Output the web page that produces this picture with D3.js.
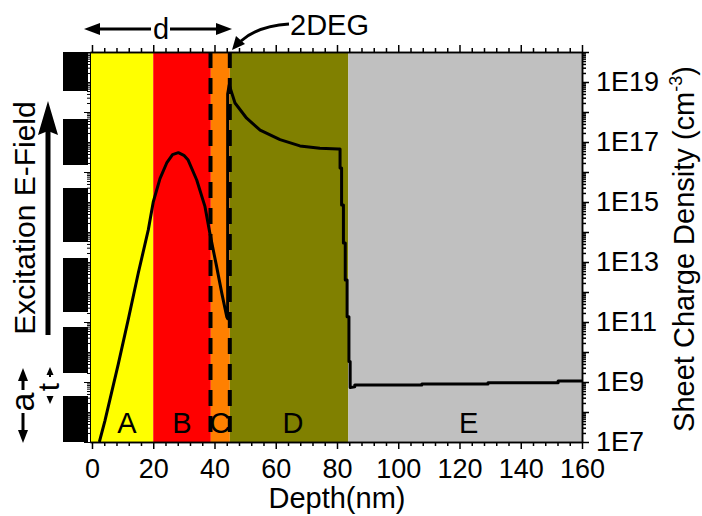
<!DOCTYPE html>
<html>
<head>
<meta charset="utf-8">
<script src="https://cdn.jsdelivr.net/npm/d3@7"></script>
<style>
  body { margin: 0; background: #fff; }
  text { font-family: "Liberation Sans", Arial, sans-serif; fill: #000; }
</style>
</head>
<body>
<div id="chart"></div>
<script>
// layers of the structure
var layerNames = ["A", "B", "C", "D", "E"];
var layerStart = [-0.65, 20, 38.8, 45, 83.7];
var layerEnd = [20, 38.8, 45, 83.7, 160];
var layerLabelAt = [11.4, 29.4, 41.8, 65.6, 123];
var layerColors = ["#ffff00", "#ff0000", "#ff8000", "#808000", "#c0c0c0"];

// dashed interface markers (nm)
var interfaceDepths = [38.7, 45.0];

// charge density profile
var depth = [2.4, 4.2, 8.6, 11.9, 15.1, 18.4, 20.0, 22.2, 24.4, 26.3, 28.2, 30.0, 31.4, 34.2, 36.9,
  38.5, 40.7, 42.4, 44.0, 44.3, 44.3, 44.8, 46.7, 50.5, 54.9, 61.4, 67.9, 74.4, 80.4, 81.0,
  81.0, 81.5, 81.5, 82.1, 82.1, 82.7, 82.7, 83.3, 83.3, 83.9, 83.9, 84.3, 84.3, 85.8,
  85.8, 107.7, 107.7, 129.3, 129.3, 152.2, 152.2, 160];
var density = [1e7, 5e7, 4e9, 1.3e11, 4.2e12, 1.2e14, 1e15, 6e15, 2e16, 3.8e16, 4.4e16, 3.6e16, 2.5e16, 5.4e15, 7e14,
  9e13, 7e12, 9e11, 1.5e11, 1.3e11, 4e18, 8e18, 2e18, 6.2e17, 2.5e17, 1.2e17, 7.4e16, 6.2e16, 5.8e16, 5.8e16,
  1.35e16, 1.35e16, 8e14, 8e14, 4.3e13, 4.3e13, 2.5e12, 2.5e12, 1.5e11, 1.5e11, 4.8e9, 4.8e9, 6.5e8, 6.9e8,
  7.9e8, 7.9e8, 8.5e8, 8.5e8, 9.5e8, 9.5e8, 1.07e9, 1.07e9];

// ticks
var depthTicks = [0, 20, 40, 60, 80, 100, 120, 140, 160];
var densityTicks = [1e7, 1e8, 1e9, 1e10, 1e11, 1e12, 1e13, 1e14, 1e15, 1e16, 1e17, 1e18, 1e19, 1e20];
var densityLabels = ["1E7", "", "1E9", "", "1E11", "", "1E13", "", "1E15", "", "1E17", "", "1E19", ""];

var margin = { top: 52, left: 90, right: 120, bottom: 74 },
  width = 702 - margin.left - margin.right,
  height = 516 - margin.top - margin.bottom;

var svgRoot = d3.select("#chart")
  .append("svg")
  .attr("width", 702)
  .attr("height", 516);

var svg = svgRoot.append("g")
  .attr("transform", "translate(" + margin.left + "," + margin.top + ")");

var xPositionScale = d3.scaleLinear().domain([-0.65, 160]).range([0, width]);
var yPositionScale = d3.scaleLog().domain([1e7, 1e20]).range([height, 0]);

svg.append("clipPath").attr("id", "plot-clip")
  .append("rect").attr("width", width).attr("height", height);

// coloured layers
svg.selectAll(".layer")
  .data(layerNames)
  .enter()
  .append("rect")
  .attr("class", "layer")
  .attr("x", function(d, i) { return xPositionScale(layerStart[i]); })
  .attr("width", function(d, i) { return xPositionScale(layerEnd[i]) - xPositionScale(layerStart[i]); })
  .attr("y", 0)
  .attr("height", height)
  .attr("fill", function(d, i) { return layerColors[i]; });

// profile line
var points = depth.map(function(d, i) { return [d, density[i]]; });
var line = d3.line()
  .x(function(d) { return xPositionScale(d[0]); })
  .y(function(d) { return yPositionScale(d[1]); });

svg.append("path")
  .datum(points)
  .attr("d", line)
  .attr("clip-path", "url(#plot-clip)")
  .attr("fill", "none")
  .attr("stroke", "#000")
  .attr("stroke-width", 3)
  .attr("stroke-linejoin", "round");

// dashed interfaces
svg.selectAll(".interface")
  .data(interfaceDepths)
  .enter()
  .append("line")
  .attr("class", "interface")
  .attr("x1", function(d) { return xPositionScale(d); })
  .attr("x2", function(d) { return xPositionScale(d); })
  .attr("y1", 0)
  .attr("y2", height)
  .attr("stroke", "#000")
  .attr("stroke-width", 4)
  .attr("stroke-dasharray", "16,10");

// layer letters
svg.selectAll(".layer-label")
  .data(layerNames)
  .enter()
  .append("text")
  .attr("class", "layer-label")
  .attr("x", function(d, i) { return xPositionScale(layerLabelAt[i]); })
  .attr("y", height - 9)
  .attr("text-anchor", "middle")
  .style("font-size", "29px")
  .text(function(d) { return d; });

// axes
var minorDepth = d3.range(0, 161, 4).filter(function(d) { return d % 20 != 0; });
var minorDensity = [];
densityTicks.slice(0, -1).forEach(function(t) {
  for (var k = 2; k < 10; k++) minorDensity.push(t * k);
});

var xAxis = d3.axisBottom(xPositionScale).tickValues(depthTicks).tickSize(7).tickSizeOuter(0);
var xAxisTop = d3.axisTop(xPositionScale).tickValues(depthTicks).tickSize(7).tickSizeOuter(0).tickFormat("");
var yAxis = d3.axisRight(yPositionScale).tickValues(densityTicks).tickSize(7).tickSizeOuter(0)
  .tickFormat(function(d, i) { return densityLabels[i]; });
var yAxisLeft = d3.axisLeft(yPositionScale).tickValues(densityTicks).tickSize(6).tickSizeOuter(0).tickFormat("");

svg.append("g").attr("class", "axis x-axis").attr("transform", "translate(0," + height + ")").call(xAxis);
svg.append("g").attr("class", "axis").attr("transform", "translate(0," + height + ")")
  .call(d3.axisBottom(xPositionScale).tickValues(minorDepth).tickSize(4).tickSizeOuter(0).tickFormat(""));
svg.append("g").attr("class", "axis").call(xAxisTop);
svg.append("g").attr("class", "axis")
  .call(d3.axisTop(xPositionScale).tickValues(minorDepth).tickSize(4).tickSizeOuter(0).tickFormat(""));
svg.append("g").attr("class", "axis y-axis").attr("transform", "translate(" + width + ",0)").call(yAxis);
svg.append("g").attr("class", "axis").attr("transform", "translate(" + width + ",0)")
  .call(d3.axisRight(yPositionScale).tickValues(minorDensity).tickSize(4).tickSizeOuter(0).tickFormat(""));
svg.append("g").attr("class", "axis left").call(yAxisLeft);
svg.append("g").attr("class", "axis left")
  .call(d3.axisLeft(yPositionScale).tickValues(minorDensity).tickSize(3).tickSizeOuter(0).tickFormat(""));

svg.selectAll(".axis path, .axis line").attr("stroke", "#000").attr("stroke-width", 1.5);
svg.selectAll(".axis.left path, .axis.left line").attr("stroke-width", 1);
svg.selectAll(".axis text")
  .style("font-size", "27px")
  .style("font-family", "'Liberation Sans', Arial, sans-serif")
  .attr("fill", "#000");
svg.selectAll(".x-axis text").attr("dy", "0.95em");
svg.selectAll(".y-axis text").attr("x", 14);

// axis titles
svg.append("text")
  .attr("x", xPositionScale(80))
  .attr("y", height + 66)
  .attr("text-anchor", "middle")
  .style("font-size", "29px")
  .text("Depth(nm)");

var yTitle = svg.append("text")
  .attr("transform", "translate(" + (width + 112) + "," + (height / 2 + 2) + ") rotate(-90)")
  .attr("text-anchor", "middle")
  .style("font-size", "29px");
yTitle.append("tspan").text("Sheet Charge Density (cm");
yTitle.append("tspan").attr("dy", -12).style("font-size", "18px").text("-3");
yTitle.append("tspan").attr("dy", 12).text(")");

// left side: excitation field bars
var fieldBlocks = [[52, 91], [119, 165], [188, 242], [258, 312], [327, 373], [396, 442]];
svgRoot.selectAll(".field-block")
  .data(fieldBlocks)
  .enter()
  .append("rect")
  .attr("x", 63)
  .attr("width", 25)
  .attr("y", function(d) { return d[0]; })
  .attr("height", function(d) { return d[1] - d[0]; })
  .attr("fill", "#000");

svgRoot.append("line")
  .attr("x1", 48).attr("x2", 48).attr("y1", 335).attr("y2", 128)
  .attr("stroke", "#000").attr("stroke-width", 5);
svgRoot.append("path")
  .attr("d", "M48,101 L58,135 L48,131 L38,135 Z")
  .attr("fill", "#000");

svgRoot.append("text")
  .attr("transform", "translate(35,218) rotate(-90)")
  .attr("text-anchor", "middle")
  .style("font-size", "30px")
  .text("Excitation E-Field");

// a and t markers
function arrowHead(g, x, y, dir, len, half) {
  g.append("path")
    .attr("d", "M" + x + "," + y + " L" + (x + half) + "," + (y + dir * len) + " L" + (x - half) + "," + (y + dir * len) + " Z")
    .attr("fill", "#000");
}
svgRoot.append("line").attr("x1", 23).attr("x2", 23).attr("y1", 376).attr("y2", 390)
  .attr("stroke", "#000").attr("stroke-width", 3);
svgRoot.append("line").attr("x1", 23).attr("x2", 23).attr("y1", 413).attr("y2", 433)
  .attr("stroke", "#000").attr("stroke-width", 3);
arrowHead(svgRoot, 23, 368, 1, 13, 5);
arrowHead(svgRoot, 23, 443, -1, 13, 5);
svgRoot.append("text")
  .attr("transform", "translate(34,402) rotate(-90)")
  .attr("text-anchor", "middle")
  .style("font-size", "34px")
  .text("a");

svgRoot.append("line").attr("x1", 50).attr("x2", 50).attr("y1", 372).attr("y2", 377)
  .attr("stroke", "#000").attr("stroke-width", 2);
svgRoot.append("line").attr("x1", 50).attr("x2", 50).attr("y1", 396).attr("y2", 400)
  .attr("stroke", "#000").attr("stroke-width", 2);
arrowHead(svgRoot, 50, 367, 1, 8, 3.5);
arrowHead(svgRoot, 50, 404, -1, 8, 3.5);
svgRoot.append("text")
  .attr("transform", "translate(59,387) rotate(-90)")
  .attr("text-anchor", "middle")
  .style("font-size", "30px")
  .text("t");

// d arrow over the top layers
svgRoot.append("line").attr("x1", 96).attr("x2", 151).attr("y1", 29).attr("y2", 29)
  .attr("stroke", "#000").attr("stroke-width", 3);
svgRoot.append("line").attr("x1", 170).attr("x2", 220).attr("y1", 29).attr("y2", 29)
  .attr("stroke", "#000").attr("stroke-width", 3);
svgRoot.append("path").attr("d", "M84,29 L100,23 L100,35 Z").attr("fill", "#000");
svgRoot.append("path").attr("d", "M232,29 L216,23 L216,35 Z").attr("fill", "#000");
svgRoot.append("text")
  .attr("x", 161).attr("y", 39)
  .attr("text-anchor", "middle")
  .style("font-size", "29px")
  .text("d");

// 2DEG callout
svgRoot.append("path")
  .attr("d", "M289,24 Q258,26 241,41")
  .attr("fill", "none").attr("stroke", "#000").attr("stroke-width", 3);
svgRoot.append("path").attr("d", "M232,50 L236,36 L245,44 Z").attr("fill", "#000");
svgRoot.append("text")
  .attr("x", 290).attr("y", 35)
  .style("font-size", "29px")
  .text("2DEG");
</script>
</body>
</html>
